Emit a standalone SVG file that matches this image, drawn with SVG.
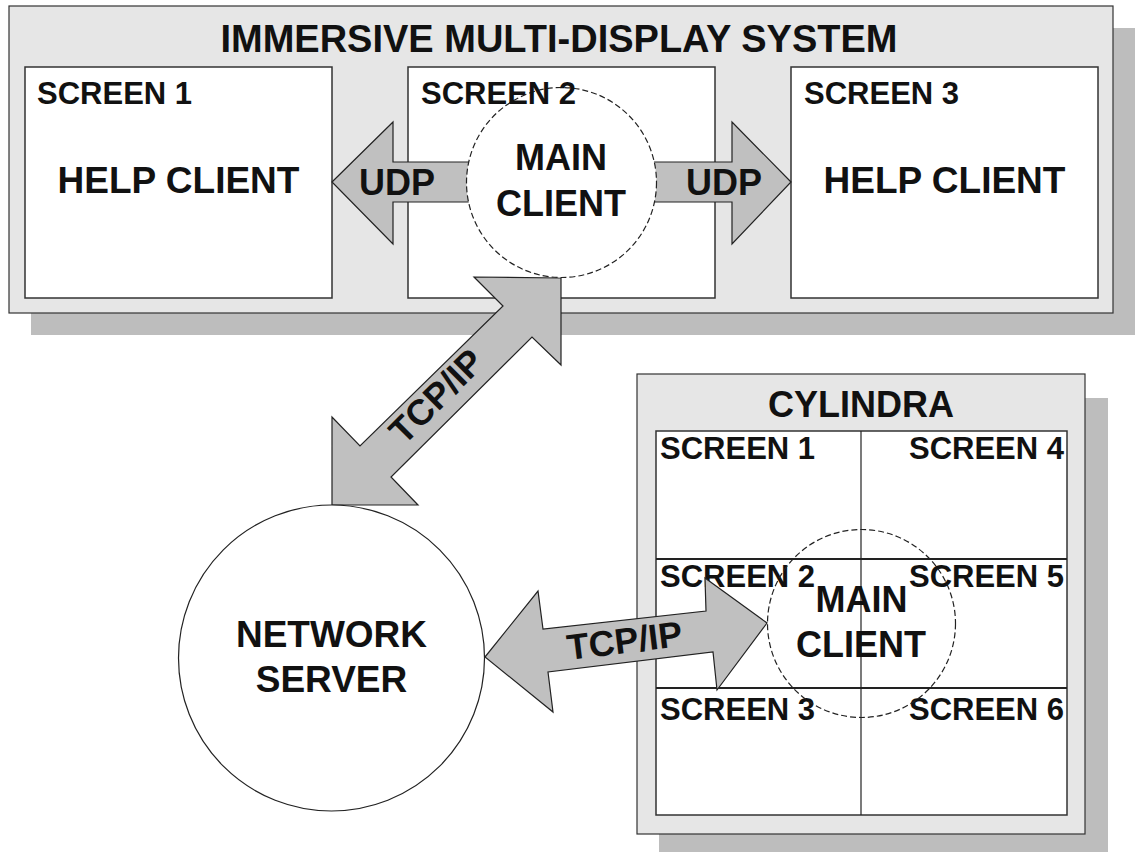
<svg xmlns="http://www.w3.org/2000/svg" width="1137" height="852" viewBox="0 0 1137 852">
<style>
.shadow{fill:#bdbdbd;stroke:none}
.panel{fill:#e6e6e6;stroke:#333;stroke-width:1.2}
.screen{fill:#fff;stroke:#333;stroke-width:1.5}
.grid{stroke:#222;stroke-width:1.2;fill:none}
.gridh{stroke:#222;stroke-width:2;fill:none}
.dash{fill:#fff;stroke:#222;stroke-width:1.2;stroke-dasharray:6 3}
.dashnf{fill:none;stroke:#222;stroke-width:1.2;stroke-dasharray:6 3}
.solidc{fill:#fff;stroke:#222;stroke-width:1.2}
.arrow{fill:#c0c0c0;stroke:#222;stroke-width:1.2;stroke-linejoin:miter}
text{font-family:"Liberation Sans",Arial,sans-serif;font-weight:bold;fill:#111}
.t38{font-size:38px}
.t37{font-size:37px}
.t36{font-size:36px}
.t31{font-size:31px}
.mid{text-anchor:middle}
.end{text-anchor:end}
</style>

<g id="immersive-system">
  <rect class="shadow" x="31" y="28" width="1104" height="307"/>
  <rect class="panel" x="9" y="6" width="1104" height="307"/>
  <text class="t38 mid" x="559" y="52">IMMERSIVE MULTI-DISPLAY SYSTEM</text>
</g>

<g id="screen1-top">
  <rect class="screen" x="25" y="67" width="307" height="231"/>
  <text class="t31" x="37" y="104">SCREEN 1</text>
  <text class="t37 mid" x="178.5" y="193">HELP CLIENT</text>
</g>

<g id="screen2-top">
  <rect class="screen" x="408" y="67" width="307" height="231"/>
</g>

<g id="screen3-top">
  <rect class="screen" x="791" y="67" width="307" height="231"/>
  <text class="t31" x="804" y="104">SCREEN 3</text>
  <text class="t37 mid" x="944.5" y="193">HELP CLIENT</text>
</g>

<g id="cylindra">
  <rect class="shadow" x="659" y="398" width="449" height="454"/>
  <rect class="panel" x="637" y="374" width="448" height="460"/>
  <text class="t36 mid" x="861" y="417">CYLINDRA</text>
  <rect class="screen" x="656" y="431" width="411" height="384"/>
  <line class="grid" x1="861" y1="431" x2="861" y2="815"/>
  <line class="gridh" x1="656" y1="559" x2="1067" y2="559"/>
  <line class="gridh" x1="656" y1="688" x2="1067" y2="688"/>
  <text class="t31" x="660" y="459">SCREEN 1</text>
  <text class="t31 end" x="1064" y="459">SCREEN 4</text>
  <text class="t31" x="660" y="587">SCREEN 2</text>
  <text class="t31 end" x="1064" y="587">SCREEN 5</text>
  <text class="t31" x="660" y="720">SCREEN 3</text>
  <text class="t31 end" x="1064" y="720">SCREEN 6</text>
</g>

<g id="connectors">
  <polygon class="arrow" points="332,182 393,122 393,162 480,162 480,202 393,202 393,244"/>
  <text class="t36 mid" x="397" y="195">UDP</text>
  <polygon class="arrow" points="791,182 732,122 732,162 645,162 645,202 732,202 732,244"/>
  <text class="t36 mid" x="724" y="195">UDP</text>
  <polygon class="arrow" points="561,278 561,365 532,337 391,477 418,505 332,505 332,417 360,446 503,306 474,277"/>
  <text class="t36 mid" x="445" y="405" transform="rotate(-45 445 405)">TCP/IP</text>
  <polygon class="arrow" points="485,657 538,591 543,629 706,611 705,578 767,623 717,690 713,652 548,672 553,712"/>
  <text class="t36 mid" x="626" y="653" transform="rotate(-7 626 653)">TCP/IP</text>
</g>

<g id="main-client-top">
  <circle class="dash" cx="561.5" cy="182.5" r="95"/>
  <text class="t36 mid" x="561" y="170">MAIN</text>
  <text class="t36 mid" x="561" y="216">CLIENT</text>
</g>

<g id="screen2-top-label">
  <text class="t31" x="421" y="104">SCREEN 2</text>
</g>

<g id="main-client-cylindra">
  <circle class="dashnf" cx="861.5" cy="623.5" r="94"/>
  <text class="t36 mid" x="861.5" y="612">MAIN</text>
  <text class="t36 mid" x="861" y="657">CLIENT</text>
</g>

<g id="network-server">
  <circle class="solidc" cx="331.5" cy="658" r="153"/>
  <text class="t37 mid" x="331.5" y="647">NETWORK</text>
  <text class="t37 mid" x="331.5" y="692">SERVER</text>
</g>
</svg>
